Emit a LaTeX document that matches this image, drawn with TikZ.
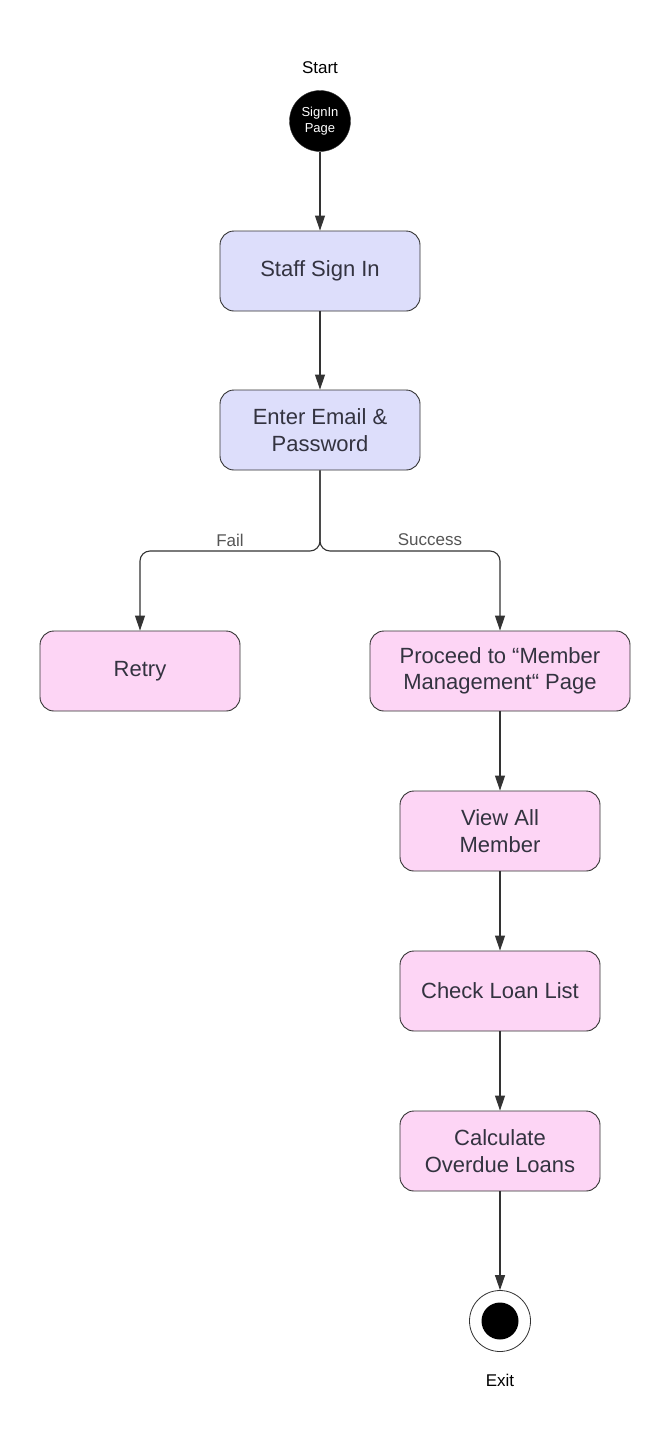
\documentclass[tikz,border=0pt]{standalone}
\usepackage{fontspec}
\setmainfont{Liberation Sans}
\usetikzlibrary{arrows.meta}
\definecolor{bluefill}{HTML}{DDDEFB}
\definecolor{pinkfill}{HTML}{FDD5F5}
\definecolor{edge}{HTML}{333333}
\definecolor{txt}{HTML}{333340}
\definecolor{lbltxt}{HTML}{555555}
\begin{document}
\begin{tikzpicture}[x=1pt,y=-1pt,
  box/.style={draw=edge, line width=0.9pt, rounded corners=14pt, minimum width=200pt, minimum height=80pt, align=center, text=txt, font=\fontsize{22}{26.5}\selectfont, inner sep=2pt},
  bluebox/.style={box, fill=bluefill},
  pinkbox/.style={box, fill=pinkfill},
  arr/.style={draw=edge, line width=1.1pt, -{Triangle[length=15pt,width=10pt]}},
  lbl/.style={text=lbltxt, font=\fontsize{17}{20}\selectfont, inner sep=0pt},
  captxt/.style={text=black, font=\fontsize{17}{20}\selectfont, inner sep=0pt}
]
\useasboundingbox[fill=white] (0,0) rectangle (670,1451);
\node[captxt] (starttxt) at (320,68) {Start};
\node[circle, fill=black, draw=edge, minimum size=61pt, inner sep=0pt, text=white, align=center, font=\fontsize{13}{16.5}\selectfont] (start) at (320,121) {SignIn\\Page};
\node[bluebox] (staff) at (320,271) {Staff Sign In};
\node[bluebox] (email) at (320,430) {Enter Email \&\\Password};
\node[pinkbox] (retry) at (140,671) {Retry};
\node[pinkbox, minimum width=260pt] (proceed) at (500,671) {Proceed to “Member\\Management“ Page};
\node[pinkbox] (view) at (500,831) {View All\\Member};
\node[pinkbox] (check) at (500,991) {Check Loan List};
\node[pinkbox] (calc) at (500,1151) {Calculate\\Overdue Loans};
\node[circle, draw=edge, line width=0.8pt, fill=white, minimum size=61pt, inner sep=0pt] (endo) at (500,1321) {};
\node[circle, fill=black, minimum size=37pt, inner sep=0pt] (endi) at (500,1321) {};
\node[captxt] (exittxt) at (500,1380) {Exit};
\coordinate (split) at (320,551);
\draw[arr] (start) -- (staff);
\draw[arr] (staff) -- (email);
\draw[arr, rounded corners=10pt] (email.south) -- (split) -| (retry.north);
\draw[arr, rounded corners=10pt] (email.south) -- (split) -| (proceed.north);
\node[lbl] (fail) at (230,540) {Fail};
\node[lbl] (succ) at (430,540) {Success};
\draw[arr] (proceed) -- (view);
\draw[arr] (view) -- (check);
\draw[arr] (check) -- (calc);
\draw[arr] (calc) -- (endo);
\end{tikzpicture}
\end{document}
